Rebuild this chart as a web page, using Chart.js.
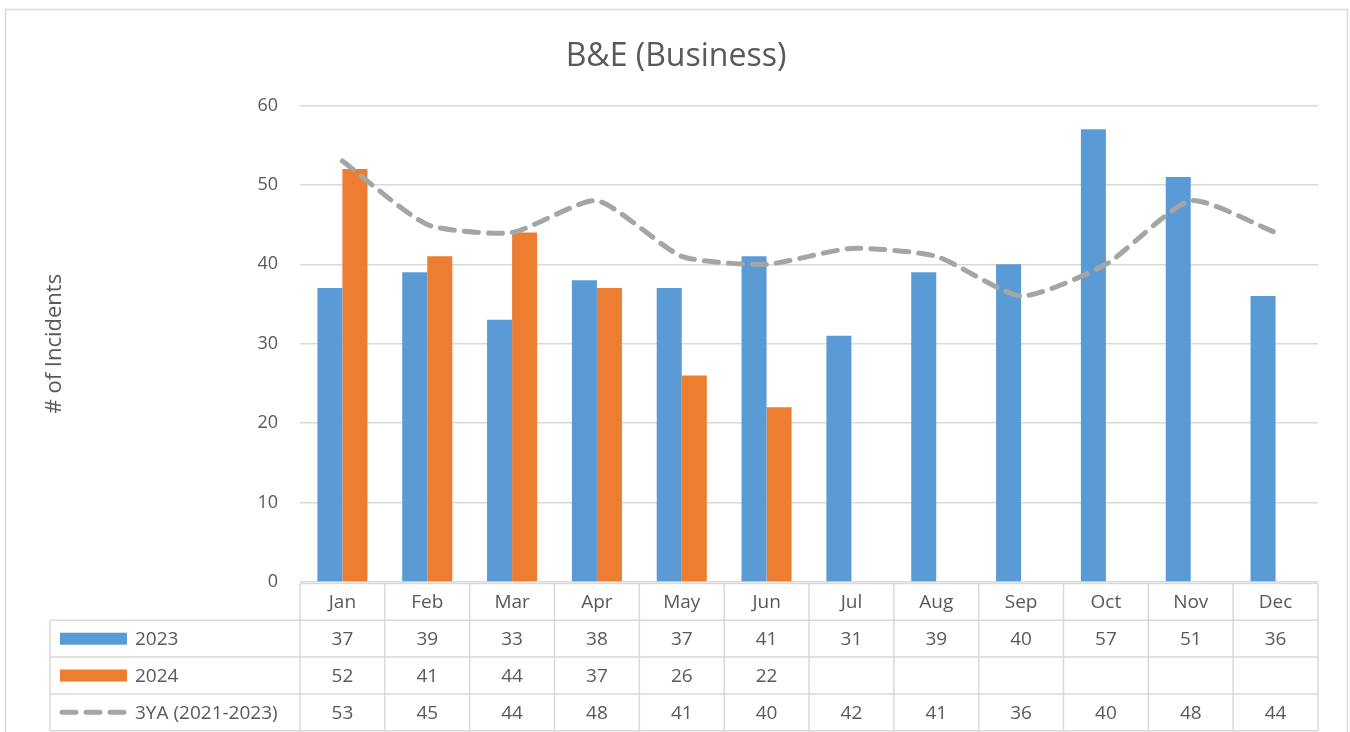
<!DOCTYPE html>
<html>
<head>
<meta charset="utf-8">
<script src="https://cdn.jsdelivr.net/npm/chart.js@4.4.1/dist/chart.umd.min.js"></script>
<style>
  html, body { margin: 0; padding: 0; background: #ffffff; }
  #wrap { position: relative; width: 1350px; height: 732px; }
  canvas { display: block; }
</style>
</head>
<body>
<div id="wrap"><canvas id="c" width="1350" height="732"></canvas></div>
<script>
const categories = ['Jan','Feb','Mar','Apr','May','Jun','Jul','Aug','Sep','Oct','Nov','Dec'];
const series2023 = [37, 39, 33, 38, 37, 41, 31, 39, 40, 57, 51, 36];
const series2024 = [52, 41, 44, 37, 26, 22, null, null, null, null, null, null];
const series3YA  = [53, 45, 44, 48, 41, 40, 42, 41, 36, 40, 48, 44];
const seriesLabels = ['2023', '2024', '3YA (2021-2023)'];
const yTicks = [0, 10, 20, 30, 40, 50, 60];

const FONT = "'Open Sans', 'DejaVu Sans', sans-serif";
const TXT = '#595959';
const GRID = '#d9d9d9';
const BLUE = '#5B9BD5';
const ORANGE = '#ED7D31';
const GRAY = '#A5A5A5';

const ROW_H = 36.8;
const TABLE_LEFT = 50;

const framePlugin = {
  id: 'frame',
  beforeDraw(chart) {
    const ctx = chart.ctx;
    ctx.save();
    ctx.fillStyle = '#ffffff';
    ctx.fillRect(0, 0, chart.width, chart.height);
    ctx.strokeStyle = GRID;
    ctx.lineWidth = 1.5;
    ctx.strokeRect(5.5, 9.5, 1342, 740);
    ctx.restore();
  }
};

const tablePlugin = {
  id: 'dataTable',
  afterDraw(chart) {
    const ctx = chart.ctx;
    const xs = chart.scales.x;
    const area = chart.chartArea;
    const n = categories.length;
    const cw = xs.getPixelForValue(1) - xs.getPixelForValue(0);
    const left = xs.getPixelForValue(0) - cw / 2;
    const right = left + cw * n;
    const top = area.bottom + 1.5;
    ctx.save();
    ctx.strokeStyle = GRID;
    ctx.lineWidth = 1.5;
    ctx.beginPath();
    ctx.moveTo(left, top); ctx.lineTo(right, top);
    for (let r = 1; r <= 4; r++) {
      const y = top + r * ROW_H;
      ctx.moveTo(TABLE_LEFT, y); ctx.lineTo(right, y);
    }
    for (let i = 0; i <= n; i++) {
      const x = left + i * cw;
      ctx.moveTo(x, top); ctx.lineTo(x, top + 4 * ROW_H);
    }
    ctx.moveTo(TABLE_LEFT, top + ROW_H); ctx.lineTo(TABLE_LEFT, top + 4 * ROW_H);
    ctx.stroke();

    ctx.fillStyle = TXT;
    ctx.font = "19px " + FONT;
    ctx.textAlign = 'center';
    ctx.textBaseline = 'middle';
    categories.forEach((c, i) => {
      ctx.fillText(c, xs.getPixelForValue(i), top + ROW_H / 2 + 1);
    });
    const rows = [series2023, series2024, series3YA];
    rows.forEach((vals, r) => {
      const cy = top + (r + 1) * ROW_H + ROW_H / 2 + 1;
      vals.forEach((v, i) => {
        if (v !== null && v !== undefined) ctx.fillText(String(v), xs.getPixelForValue(i), cy);
      });
    });
    const datasets = chart.data.datasets;
    ctx.textAlign = 'left';
    datasets.forEach((ds, r) => {
      const cy = top + (r + 1) * ROW_H + ROW_H / 2;
      if (ds.type === 'line') {
        ctx.save();
        ctx.strokeStyle = ds.borderColor;
        ctx.lineWidth = 5;
        ctx.lineCap = 'round';
        ctx.setLineDash(ds.borderDash);
        ctx.beginPath();
        ctx.moveTo(62, cy); ctx.lineTo(126, cy);
        ctx.stroke();
        ctx.restore();
      } else {
        ctx.fillStyle = ds.backgroundColor;
        ctx.fillRect(60, cy - 6, 67, 12);
      }
      ctx.fillStyle = TXT;
      ctx.fillText(ds.label, 135, cy + 1);
    });
    ctx.restore();
  }
};

new Chart(document.getElementById('c'), {
  data: {
    labels: categories,
    datasets: [
      { type: 'bar', label: seriesLabels[0], data: series2023, backgroundColor: BLUE, order: 1,
        categoryPercentage: 0.59, barPercentage: 1.0 },
      { type: 'bar', label: seriesLabels[1], data: series2024, backgroundColor: ORANGE, order: 1,
        categoryPercentage: 0.59, barPercentage: 1.0 },
      { type: 'line', label: seriesLabels[2], data: series3YA, borderColor: GRAY, borderWidth: 5,
        borderDash: [14, 10], borderCapStyle: 'round', tension: 0.2, pointRadius: 0, fill: false, order: 0 }
    ]
  },
  options: {
    responsive: false,
    animation: false,
    devicePixelRatio: 1,
    layout: { padding: { left: 5, right: 3, top: 10, bottom: 142 } },
    plugins: {
      legend: { display: false },
      tooltip: { enabled: false },
      title: {
        display: true,
        text: 'B&E (Business)',
        color: TXT,
        font: { family: FONT, size: 32, weight: 'normal' },
        padding: { top: 28, bottom: 29 }
      }
    },
    scales: {
      x: {
        type: 'category',
        ticks: { display: false },
        grid: { display: false },
        border: { display: false }
      },
      y: {
        min: 0, max: 60,
        afterFit(scale) { scale.width = 295; },
        afterBuildTicks(scale) { scale.ticks = yTicks.map(v => ({ value: v })); },
        ticks: { color: TXT, font: { family: FONT, size: 18 }, padding: 22 },
        grid: { color: GRID, lineWidth: 1.5, drawTicks: false },
        border: { display: false },
        title: {
          display: true, text: '# of Incidents', color: TXT,
          font: { family: FONT, size: 22 }, padding: { top: 37 }
        }
      },
      yRight: {
        position: 'right',
        min: 0, max: 60,
        afterFit(scale) { scale.width = 29; },
        ticks: { display: false },
        grid: { display: false },
        border: { display: false }
      }
    }
  },
  plugins: [framePlugin, tablePlugin]
});
</script>
</body>
</html>
